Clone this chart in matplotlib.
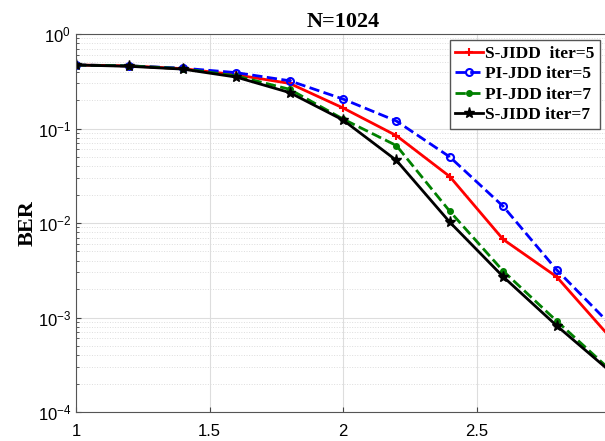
import matplotlib
matplotlib.use("Agg")
import matplotlib.pyplot as plt
from matplotlib.ticker import LogLocator, NullFormatter

snr = [1.0, 1.2, 1.4, 1.6, 1.8, 2.0, 2.2, 2.4, 2.6, 2.8, 3.0]
s_jidd_5 = [0.47, 0.46, 0.43, 0.37, 0.30, 0.165, 0.084, 0.031, 0.0067, 0.0027, 0.00062]
pi_jdd_5 = [0.47, 0.46, 0.435, 0.39, 0.32, 0.205, 0.12, 0.05, 0.015, 0.0032, 0.00085]
pi_jdd_7 = [0.47, 0.46, 0.43, 0.36, 0.26, 0.126, 0.066, 0.0133, 0.0031, 0.00092, 0.00028]
s_jidd_7 = [0.47, 0.455, 0.425, 0.35, 0.24, 0.123, 0.046, 0.0102, 0.0027, 0.00082, 0.00027]
labels = ["S-JIDD  iter=5", "PI-JDD iter=5", "PI-JDD iter=7", "S-JIDD iter=7"]
xticks = [1, 1.5, 2, 2.5]
xticklabels = ["1", "1.5", "2", "2.5"]

fig = plt.figure(figsize=(6.05, 4.41), dpi=100)
ax = fig.add_axes([76/605, 1-412/441, 534/605, (412-34)/441])

ax.semilogy(snr, s_jidd_5, color="red", ls="-", marker="+", ms=6, lw=2, mew=1.5, label=labels[0])
ax.semilogy(snr, pi_jdd_5, color="blue", ls="--", marker="o", ms=5, mfc="none", mew=1.5, lw=2, label=labels[1])
ax.semilogy(snr, pi_jdd_7, color="green", ls="--", marker=".", ms=8, lw=2, label=labels[2])
ax.semilogy(snr, s_jidd_7, color="black", ls="-", marker="*", ms=8, lw=2, label=labels[3])

ax.set_xlim(1, 3)
ax.set_ylim(1e-4, 1)
ax.set_xticks(xticks)
ax.set_xticklabels(xticklabels)
ax.yaxis.set_major_locator(LogLocator(base=10, numticks=10))
ax.yaxis.set_minor_locator(LogLocator(base=10, subs=range(2, 10), numticks=20))
ax.yaxis.set_minor_formatter(NullFormatter())

ax.grid(True, which="major", color="#dddddd", lw=0.8, ls="-")
ax.grid(True, which="minor", axis="y", color="#dddddd", lw=0.7, ls=":")
ax.set_axisbelow(True)

for lab in ax.get_xticklabels() + ax.get_yticklabels():
    lab.set_fontfamily("Liberation Sans")
    lab.set_fontsize(12)
ax.tick_params(which="both", direction="in", color="#444444")
ax.tick_params(axis="x", pad=9)
ax.tick_params(which="minor", length=2)
for s in ax.spines.values():
    s.set_color("#555555")

ax.set_ylabel("BER", fontfamily="Liberation Serif", fontweight="bold", fontsize=16, labelpad=0)
ax.set_title("N=1024", fontfamily="Liberation Serif", fontweight="bold", fontsize=16, pad=5, x=(343-76)/534)

leg = ax.legend(loc="upper right", bbox_to_anchor=((603-76)/534, 1 - 3/378),
                prop={"family": "Liberation Serif", "weight": "bold", "size": 12.5},
                fancybox=False, framealpha=1, edgecolor="#555555",
                borderpad=0.3, labelspacing=0.25, handlelength=1.6, handletextpad=0.1, borderaxespad=0.2)
leg.get_frame().set_linewidth(1.0)

fig.savefig("out.png", dpi=100)
